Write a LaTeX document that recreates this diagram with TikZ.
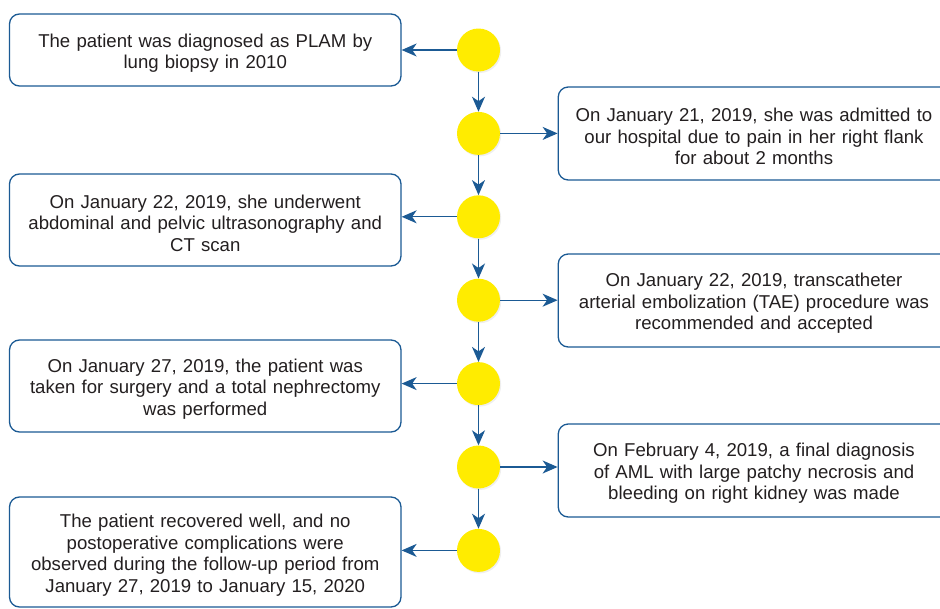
\documentclass[tikz,border=0pt]{standalone}
\usepackage{fontspec}
\setmainfont{Liberation Sans}
\usetikzlibrary{arrows.meta,shadows}
\definecolor{lineblue}{HTML}{1B5A94}
\definecolor{dotyellow}{HTML}{FFEC00}
\definecolor{txt}{HTML}{231F20}
\tikzset{
  evbox/.style={draw=lineblue, line width=1.3pt, rounded corners=10pt, fill=white,
    minimum width=391.5pt, inner sep=0pt},
  evtext/.style={inner sep=0pt, text width=388pt, align=center, text=txt,
    font=\fontsize{18.6}{21.6}\selectfont},
  dot/.style={circle, fill=dotyellow, minimum size=43pt, inner sep=0pt,
    drop shadow={shadow xshift=1.2pt, shadow yshift=-1.5pt, opacity=0.12}},
  conn/.style={draw=lineblue, line width=1.3pt, -{Stealth[length=15pt, width=13pt, inset=4.5pt]}}
}
\begin{document}
\begin{tikzpicture}
\useasboundingbox[fill=white] (0pt,0pt) rectangle (940pt,-608pt);
% timeline dots
\foreach \i/\y in {1/50,2/133.4,3/216.8,4/300.2,5/383.6,6/467,7/550.4}
  \node[dot] (c\i) at (478.5pt,-\y pt) {};
% event boxes
\node[evbox, minimum height=72pt] (b1) at (205.25pt,-50pt) {};
\node[evbox, minimum height=93pt] (b2) at (754pt,-133.5pt) {};
\node[evbox, minimum height=92pt] (b3) at (205.25pt,-220pt) {};
\node[evbox, minimum height=93pt] (b4) at (754pt,-300.5pt) {};
\node[evbox, minimum height=92pt] (b5) at (205.25pt,-386pt) {};
\node[evbox, minimum height=93pt] (b6) at (754pt,-470.5pt) {};
\node[evbox, minimum height=110pt] (b7) at (205.25pt,-552pt) {};
% texts
\node[evtext] (t1) at ([yshift=-3pt]b1.center) {The patient was diagnosed as PLAM by\\lung biopsy in 2010};
\node[evtext] (t2) at ([yshift=-3pt]b2.center) {On January 21, 2019, she was admitted to\\our hospital due to pain in her right flank\\for about 2 months};
\node[evtext] (t3) at ([yshift=-3pt]b3.center) {On January 22, 2019, she underwent\\abdominal and pelvic ultrasonography and\\CT scan};
\node[evtext] (t4) at ([yshift=-3pt]b4.center) {On January 22, 2019, transcatheter\\arterial embolization (TAE) procedure was\\recommended and accepted};
\node[evtext] (t5) at ([yshift=-3pt]b5.center) {On January 27, 2019, the patient was\\taken for surgery and a total nephrectomy\\was performed};
\node[evtext] (t6) at ([yshift=-3pt]b6.center) {On February 4, 2019, a final diagnosis\\of AML with large patchy necrosis and\\bleeding on right kidney was made};
\node[evtext] (t7) at ([yshift=-3pt]b7.center) {The patient recovered well, and no\\postoperative complications were\\observed during the follow-up period from\\January 27, 2019 to January 15, 2020};
% vertical connectors
\foreach \a/\b in {1/2,2/3,3/4,4/5,5/6,6/7}
  \draw[conn] (c\a.south) -- (c\b.north);
% horizontal connectors
\draw[conn] (c1.west) -- (c1.west -| b1.east);
\draw[conn] (c2.east) -- (c2.east -| b2.west);
\draw[conn] (c3.west) -- (c3.west -| b3.east);
\draw[conn] (c4.east) -- (c4.east -| b4.west);
\draw[conn] (c5.west) -- (c5.west -| b5.east);
\draw[conn] (c6.east) -- (c6.east -| b6.west);
\draw[conn] (c7.west) -- (c7.west -| b7.east);
\end{tikzpicture}
\end{document}
